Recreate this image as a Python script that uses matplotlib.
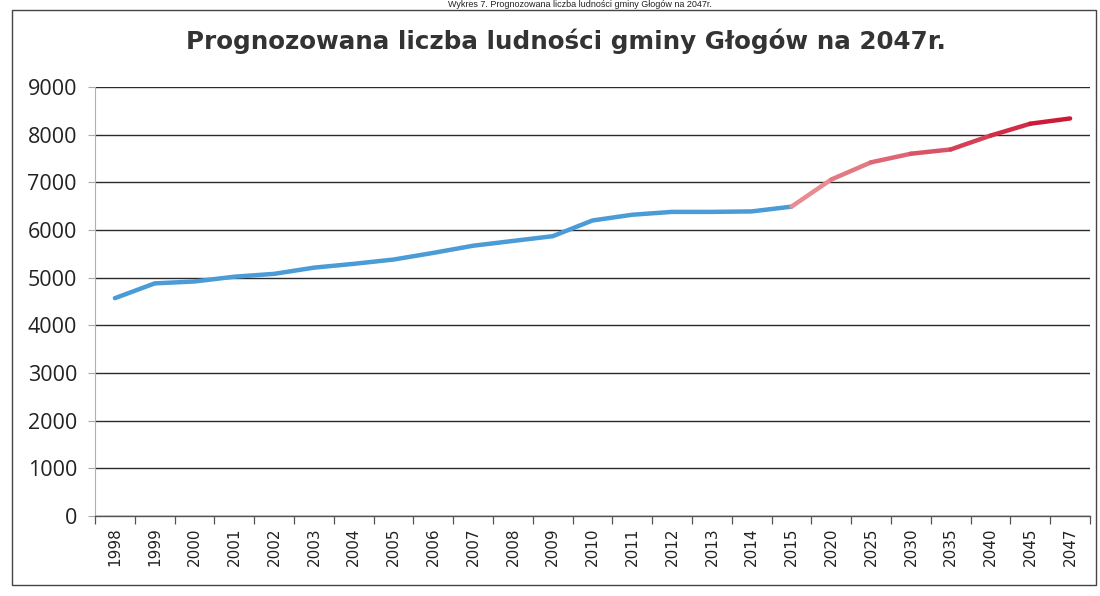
import matplotlib
matplotlib.use("Agg")
import matplotlib.pyplot as plt
from matplotlib.patches import Rectangle
import numpy as np

years = ["1998", "1999", "2000", "2001", "2002", "2003", "2004", "2005", "2006",
         "2007", "2008", "2009", "2010", "2011", "2012", "2013", "2014", "2015",
         "2020", "2025", "2030", "2035", "2040", "2045", "2047"]
population = [4570, 4880, 4920, 5020, 5080, 5210, 5290, 5380, 5520,
              5670, 5770, 5870, 6200, 6320, 6380, 6380, 6390, 6490,
              7060, 7420, 7600, 7690, 7980, 8230, 8340]
n_observed = 18  # 1998-2015 observed (blue), rest forecast (red)

title = "Prognozowana liczba ludności gminy Głogów na 2047r."
caption = "Wykres 7. Prognozowana liczba ludności gminy Głogów na 2047r."
yticks = [0, 1000, 2000, 3000, 4000, 5000, 6000, 7000, 8000, 9000]

W, H = 1100, 596
fig = plt.figure(figsize=(W / 100, H / 100), dpi=100)
fig.patch.set_facecolor("white")

ax = fig.add_axes([95 / W, 1 - 516 / H, (1090 - 95) / W, (516 - 87) / H])
x = np.arange(len(years))

# observed part
ax.plot(x[:n_observed], population[:n_observed], color="#4a9bd6", lw=3.2,
        solid_capstyle="round", solid_joinstyle="round", zorder=3)
# forecast part with pink -> red gradient
start_c = np.array([0.91, 0.55, 0.57])
end_c = np.array([0.80, 0.10, 0.22])
nseg = len(years) - n_observed
for i in range(nseg):
    t = i / max(nseg - 1, 1)
    c = start_c * (1 - t) + end_c * t
    ax.plot(x[n_observed - 1 + i:n_observed + 1 + i],
            population[n_observed - 1 + i:n_observed + 1 + i],
            color=c, lw=3.2, solid_capstyle="round", solid_joinstyle="round", zorder=3)

ax.set_xlim(-0.5, len(years) - 0.5)
ax.set_ylim(0, 9000)
ax.set_yticks(yticks)
ax.set_yticklabels([str(v) for v in yticks], fontsize=15.5, family="Open Sans",
                   color="#222222")
ax.yaxis.grid(True, color="#2a2a2a", lw=1.0)
ax.set_axisbelow(True)

ax.set_xticks(x)
ax.set_xticklabels(years, rotation=90, fontsize=11, family="DejaVu Sans",
                   color="#222222")
ax.set_xticks(np.arange(-0.5, len(years), 1.0), minor=True)
ax.tick_params(axis="x", which="major", length=0, pad=8)
ax.tick_params(axis="x", which="minor", length=6, color="#555555", width=0.9)
ax.tick_params(axis="y", length=5, color="#aaaaaa", width=0.8, pad=8)

for s in ["top", "right"]:
    ax.spines[s].set_visible(False)
ax.spines["left"].set_color("#b0b0b0")
ax.spines["left"].set_linewidth(0.8)
ax.spines["bottom"].set_color("#555555")
ax.spines["bottom"].set_linewidth(1.0)

fig.text(566 / W, 1 - 41 / H, title, ha="center", va="center",
         fontsize=17.7, fontweight="bold", color="#333333", family="DejaVu Sans")

# caption of the page scan, just above the chart box
fig.text(580 / W, 1 - 9 / H, caption, ha="center", va="bottom",
         fontsize=6.5, color="#222222", family="Liberation Sans")

# chart border box
fig.add_artist(Rectangle((12 / W, 1 - 585 / H), (1096 - 12) / W, (585 - 10) / H,
                         transform=fig.transFigure, fill=False,
                         edgecolor="#444444", lw=1.0))

fig.savefig("out.png", dpi=100, facecolor="white")
